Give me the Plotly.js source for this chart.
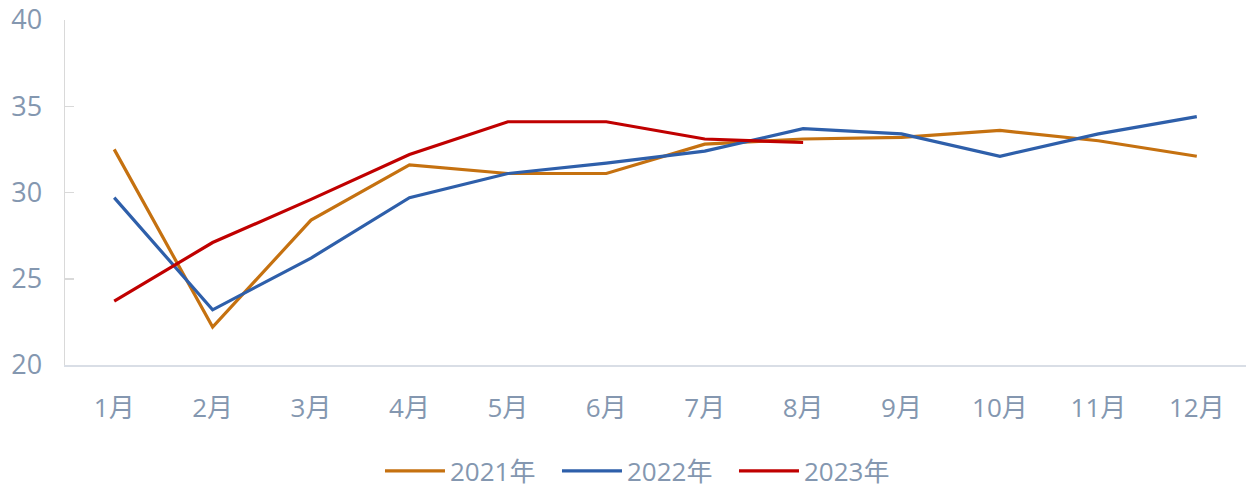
<!DOCTYPE html>
<html>
<head>
<meta charset="utf-8">
<script src="https://cdn.plot.ly/plotly-3.0.1.min.js"></script>
<style>html,body{margin:0;padding:0;background:#fff;}#chart{width:1252px;height:488px;}</style>
</head>
<body>
<div id="chart"></div>
<script>
const months = ["1月","2月","3月","4月","5月","6月","7月","8月","9月","10月","11月","12月"];
const seriesNames = ["2021年","2022年","2023年"];
const v2021 = [32.5, 22.2, 28.4, 31.6, 31.1, 31.1, 32.8, 33.1, 33.2, 33.6, 33.0, 32.1];
const v2022 = [29.7, 23.2, 26.2, 29.7, 31.1, 31.7, 32.4, 33.7, 33.4, 32.1, 33.4, 34.4];
const v2023 = [23.7, 27.1, 29.6, 32.2, 34.1, 34.1, 33.1, 32.9];
const yTicks = [20, 25, 30, 35, 40];

const colors = ["#C57110", "#2E5FAA", "#C00000"];
const textColor = "#8497B0";
const font = "'Open Sans', 'Noto Sans CJK SC', sans-serif";

const data = [v2021, v2022, v2023].map((vals, i) => ({
  type: "scatter", mode: "lines",
  x: months.slice(0, vals.length), y: vals,
  name: seriesNames[i],
  line: {color: colors[i], width: 3.2}
}));

const layout = {
  width: 1252, height: 488,
  margin: {l: 65, r: 6, t: 20, b: 123},
  paper_bgcolor: "#fff", plot_bgcolor: "#fff",
  font: {family: font, color: textColor, size: 22},
  showlegend: true,
  legend: {orientation: "h", x: 0.3035, xref: "container", xanchor: "left",
           y: 0.035, yref: "container", yanchor: "middle",
           font: {size: 26, color: textColor}, itemwidth: 60,
           entrywidth: 102, entrywidthmode: "pixels", traceorder: "normal"},
  xaxis: {
    type: "category", categoryorder: "array", categoryarray: months,
    range: [-0.5, 11.5], automargin: false,
    showgrid: false, zeroline: false,
    showline: true, linecolor: "#D9DEE6", linewidth: 2,
    ticks: "", ticklabelstandoff: 19,
    tickfont: {size: 26, color: textColor}
  },
  yaxis: {
    range: [20, 40], tickvals: yTicks, automargin: false,
    showgrid: false, zeroline: false,
    showline: true, linecolor: "#D9D9D9", linewidth: 1.5,
    ticks: "inside", ticklen: 9, tickcolor: "#D9D9D9", tickwidth: 1.5,
    ticklabelstandoff: 16,
    tickfont: {size: 27, color: textColor}
  }
};

Plotly.newPlot("chart", data, layout, {displayModeBar: false, staticPlot: true});
</script>
</body>
</html>
